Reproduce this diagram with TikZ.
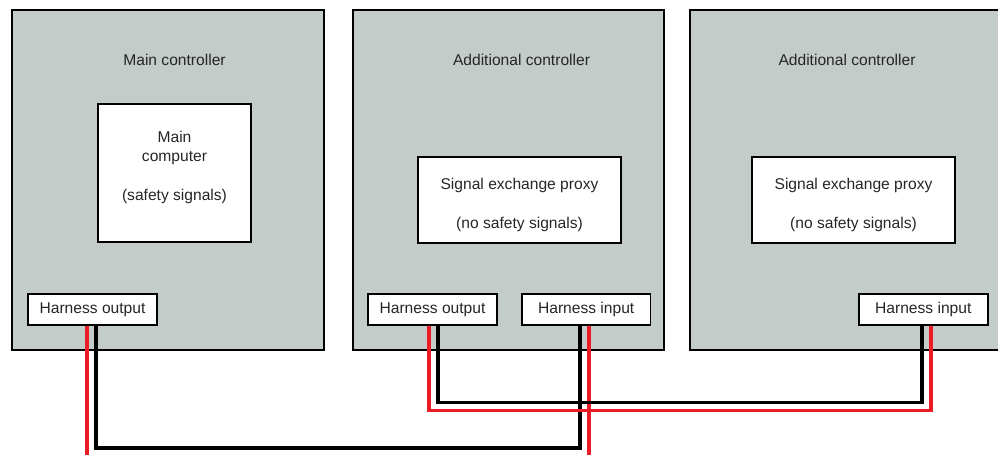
\documentclass[tikz,border=0pt]{standalone}
\usepackage{fontspec}
\setmainfont{Liberation Sans}
\usetikzlibrary{calc}

\definecolor{casegray}{HTML}{C4CCC9}
\definecolor{wirered}{HTML}{ED1C24}

\tikzset{
  unit/.style={draw=black, line width=1.4pt, fill=casegray},
  inner/.style={draw=black, line width=1.4pt, fill=white, inner sep=0pt},
  harness/.style={inner, minimum width=96.4pt, minimum height=23.3pt},
  caption/.style={font=\fontsize{11.7}{14}\selectfont, text=black!85, inner sep=0pt},
  blackwire/.style={line width=2.3pt, black},
  redwire/.style={line width=2.3pt, wirered}
}

\begin{document}
\begin{tikzpicture}[x=0.75pt, y=-0.75pt, line join=miter]
    \useasboundingbox (0,0) rectangle (998,455);

    % controller cases
    \draw[unit] (12,10) rectangle (324,350);
    \draw[unit] (353,10) rectangle (664,350);
    \draw[unit] (690,10) rectangle (1010,350);

    \node[caption] (t1) at (174.5,60) {Main controller};
    \node[caption] (t2) at (521.5,60) {Additional controller};
    \node[caption] (t3) at (847,60) {Additional controller};

    % computers inside the cases
    \node[inner, minimum width=114.4pt, minimum height=103.5pt] (mc) at (174.5,173.2) {};
    \node[caption] at (mc.center |- 0,137) {Main};
    \node[caption] at (mc.center |- 0,158) {computer};
    \node[caption] at (mc.center |- 0,196) {(safety signals)};

    \node[inner, minimum width=151.9pt, minimum height=64.5pt] (px2) at (519.5,199.7) {};
    \node[caption] at (px2.center |- 0,185) {Signal exchange proxy};
    \node[caption] at (px2.center |- 0,224) {(no safety signals)};

    \node[inner, minimum width=151.9pt, minimum height=64.5pt] (px3) at (853.5,199.7) {};
    \node[caption] at (px3.center |- 0,185) {Signal exchange proxy};
    \node[caption] at (px3.center |- 0,224) {(no safety signals)};

    % harness connectors
    \node[harness] (ho1) at (92.5,309.5) {}; \node[caption] at (ho1) {Harness output};
    \node[harness] (ho2) at (432.5,309.5) {}; \node[caption] at (ho2) {Harness output};
    \node[harness] (hi2) at (586.2,309.5) {}; \node[caption] at (hi2) {Harness input};
    \node[harness] (hi3) at (923.3,309.5) {}; \node[caption] at (hi3) {Harness input};

    % wiring
    \draw[redwire] (ho1.south -| 87,0) -- (87,455);
    \draw[blackwire] (ho1.south -| 96,0) -- (96,448) -| (hi2.south -| 580,0);
    \draw[redwire] (hi2.south -| 589,0) -- (589,455);

    \draw[blackwire] (ho2.south -| 438,0) -- (438,402.5) -| (hi3.south -| 922,0);
    \draw[redwire] (ho2.south -| 429,0) -- (429,410.5) -| (hi3.south -| 931,0);
\end{tikzpicture}
\end{document}
